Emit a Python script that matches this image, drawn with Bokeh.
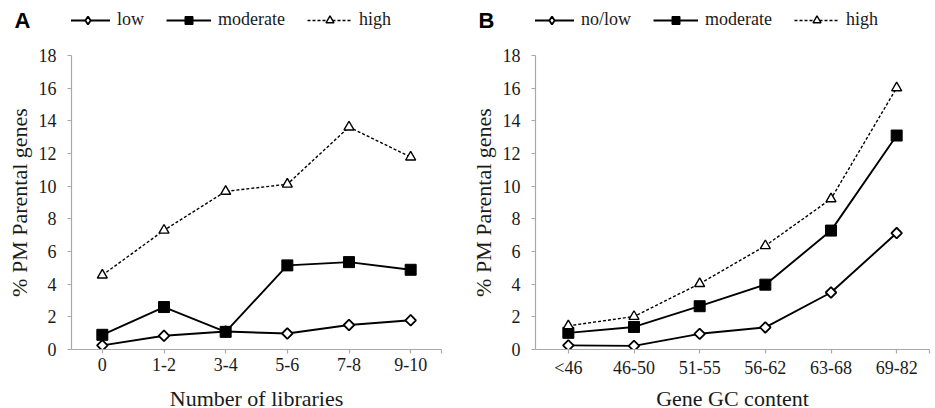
import math
from bokeh.plotting import figure
from bokeh.models import Range1d, FixedTicker, Legend, LegendItem, Label, LinearAxis
from bokeh.layouts import row, column
from bokeh.embed import file_html
from bokeh.resources import INLINE

# ---------------- data ----------------
lib_categories = ["0", "1-2", "3-4", "5-6", "7-8", "9-10"]
lib_series_names = ["low", "moderate", "high"]
lib_low = [0.25, 0.84, 1.10, 0.98, 1.50, 1.79]
lib_moderate = [0.90, 2.60, 1.08, 5.15, 5.35, 4.88]
lib_high = [4.55, 7.30, 9.68, 10.12, 13.62, 11.78]

gc_categories = ["<46", "46-50", "51-55", "56-62", "63-68", "69-82"]
gc_series_names = ["no/low", "moderate", "high"]
gc_nolow = [0.25, 0.22, 0.96, 1.35, 3.49, 7.13]
gc_moderate = [1.02, 1.38, 2.65, 3.97, 7.28, 13.10]
gc_high = [1.45, 2.02, 4.03, 6.35, 9.22, 16.02]

y_ticks = [0, 2, 4, 6, 8, 10, 12, 14, 16, 18]
y_axis_title = "% PM Parental genes"

SERIF = "Liberation Serif"
AXIS_GREY = "#a9a9a9"
TEXT = "#1a1a1a"

HEADER_H = 40
MAIN_H = 345
FOOTER_H = 23

STYLES = [
    dict(line=dict(line_color="black", line_width=1.9),
         marker=dict(marker="square", angle=math.pi / 4, size=7.5, fill_color="white",
                     line_color="black", line_width=1.8),
         legend_marker="diamond"),
    dict(line=dict(line_color="black", line_width=1.9),
         marker=dict(marker="square", size=11, fill_color="black",
                     line_color="black", line_width=1),
         legend_marker="square"),
    dict(line=dict(line_color="black", line_width=1.4, line_dash="3 2"),
         marker=dict(marker="triangle", size=10, fill_color="white",
                     line_color="black", line_width=1.4),
         legend_marker="triangle"),
]


def blank_fig(width, height, left=0, right=0):
    f = figure(width=width, height=height, output_backend="svg", toolbar_location=None,
               x_axis_type=None, y_axis_type=None,
               min_border_left=left, min_border_right=right,
               min_border_top=0, min_border_bottom=0)
    f.outline_line_color = None
    f.background_fill_color = "white"
    f.border_fill_color = "white"
    return f


def make_panel(letter, categories, names, series, xlabel, width, left, right):
    n = len(categories)
    xs = list(range(n))

    # ---------- header: panel letter + legend ----------
    head = blank_fig(width, HEADER_H, left, right)
    head.x_range = Range1d(0, 1)
    head.y_range = Range1d(0, 1)
    items = []
    for name, ys, st in zip(names, series, STYLES):
        rl = head.line(xs, ys, visible=False, **st["line"])
        mk = dict(st["marker"])
        mk.pop("angle", None)
        mk["marker"] = st["legend_marker"]
        rm = head.scatter(xs, ys, visible=False, **mk)
        items.append(LegendItem(label=name, renderers=[rl, rm]))
    legend = Legend(items=items, orientation="horizontal", location=(-6, 10),
                    glyph_width=45, glyph_height=20, label_standoff=7, spacing=22,
                    padding=0, margin=0, border_line_color=None, background_fill_alpha=0,
                    label_text_font=SERIF, label_text_font_size="18px",
                    label_text_color=TEXT, click_policy="none")
    head.add_layout(legend, "center")

    letter_axis = LinearAxis(ticker=FixedTicker(ticks=[0.5]),
                             major_label_overrides={0.5: letter},
                             axis_line_color=None, major_tick_line_color=None,
                             minor_tick_line_color=None, major_tick_out=0, major_tick_in=0,
                             major_label_standoff=41,
                             major_label_text_font="Liberation Sans",
                             major_label_text_font_style="bold",
                             major_label_text_font_size="22px",
                             major_label_text_color="black")
    head.add_layout(letter_axis, "left")

    # ---------- main plot ----------
    p = figure(width=width, height=MAIN_H, output_backend="svg", toolbar_location=None,
               min_border_left=left, min_border_right=right,
               min_border_top=15, min_border_bottom=36)
    p.x_range = Range1d(-0.5, n - 0.5)
    p.y_range = Range1d(0, 18)
    p.xgrid.visible = False
    p.ygrid.visible = False
    p.outline_line_color = None
    p.background_fill_color = "white"
    p.border_fill_color = "white"

    for ys, st in zip(series, STYLES):
        p.line(xs, ys, **st["line"])
        p.scatter(xs, ys, **st["marker"])

    p.xaxis.ticker = FixedTicker(ticks=xs + [n - 0.5])
    overrides = {i: c for i, c in enumerate(categories)}
    overrides[n - 0.5] = ""
    p.xaxis.major_label_overrides = overrides
    p.yaxis.ticker = FixedTicker(ticks=y_ticks)

    for ax in (p.xaxis[0], p.yaxis[0]):
        ax.axis_line_color = AXIS_GREY
        ax.axis_line_width = 1.2
        ax.major_tick_line_color = AXIS_GREY
        ax.major_tick_line_width = 1.2
        ax.major_tick_in = 0
        ax.major_tick_out = 4
        ax.minor_tick_line_color = None
        ax.major_label_text_font = SERIF
        ax.major_label_text_font_size = "18px"
        ax.major_label_text_color = TEXT
        ax.axis_label_text_font = SERIF
        ax.axis_label_text_font_size = "22px"
        ax.axis_label_text_font_style = "normal"
        ax.axis_label_text_color = TEXT

    p.xaxis.major_label_standoff = 4
    p.yaxis.axis_label = y_axis_title
    p.yaxis.major_label_standoff = 11
    p.yaxis.axis_label_standoff = 4

    # ---------- footer: x-axis title ----------
    foot = blank_fig(width, FOOTER_H, left, right)
    foot.x_range = Range1d(-0.5, n - 0.5)
    foot.y_range = Range1d(0, 1)
    foot.add_layout(Label(x=(n - 1) / 2, y=FOOTER_H - 13, x_units="data", y_units="screen",
                          text=xlabel, text_font=SERIF, text_font_size="22px",
                          text_color=TEXT, text_align="center", text_baseline="middle"))

    return column(head, p, foot, spacing=0)


pa = make_panel("A", lib_categories, lib_series_names, (lib_low, lib_moderate, lib_high),
                "Number of libraries", 467, 71, 26)
pb = make_panel("B", gc_categories, gc_series_names, (gc_nolow, gc_moderate, gc_high),
                "Gene GC content", 468, 66, 6)

layout = row(pa, pb, spacing=0)
open("out.html", "w").write(file_html(layout, INLINE))
